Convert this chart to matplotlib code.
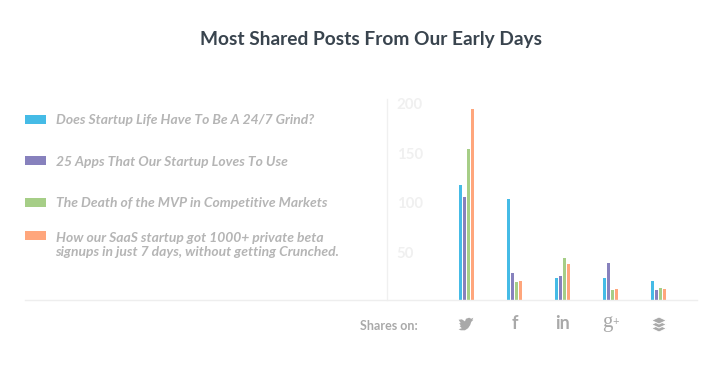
#!/usr/bin/env python3
import numpy as np
import matplotlib
matplotlib.use("Agg")
import matplotlib.pyplot as plt
from matplotlib.lines import Line2D
from matplotlib.patches import Rectangle, Polygon
from matplotlib.transforms import ScaledTranslation

# ==== DATA ====
networks = ["Twitter", "Facebook", "LinkedIn", "Google+", "Buffer"]
grind = [115, 101, 22, 22, 19]
apps = [103, 27, 24, 37, 10]
mvp = [151, 18, 42, 10, 12]
saas = [192, 19, 36, 11, 11]
yticks = [50, 100, 150, 200]

series = [grind, apps, mvp, saas]
colors = ["#45bbe6", "#8781bd", "#a6ce87", "#ffa67c"]
post_titles = [
    "Does Startup Life Have To Be A 24/7 Grind?",
    "25 Apps That Our Startup Loves To Use",
    "The Death of the MVP in Competitive Markets",
    "How our SaaS startup got 1000+ private beta\nsignups in just 7 days, without getting Crunched.",
]

W, H = 719, 371
FONT = "Lato"
GREY = "#a9a9a9"

def fx(px):
    return px / W

def fy(py):
    return 1 - py / H

# ==== PLOT ====
fig = plt.figure(figsize=(W / 100, H / 100), dpi=100, facecolor="white")
ax = fig.add_axes([fx(387), fy(299.5), fx(697 - 387), (299.5 - 99) / H])
ax.patch.set_alpha(0)

x = np.arange(len(networks))
px_x = 48.0   # pixels per category
for i, vals in enumerate(series):
    ax.bar(x + (i - 1.5) * 4 / px_x, vals, width=3 / px_x, color=colors[i], linewidth=0, zorder=3)

ax.set_xlim((387 - 466.5) / px_x, (697 - 466.5) / px_x)
ax.set_ylim(0, 200.5 / 0.994)

for s in ["top", "right", "bottom"]:
    ax.spines[s].set_visible(False)
ax.spines["left"].set_color("#f0f0f0")
ax.spines["left"].set_linewidth(1)

ax.set_xticks([])
ax.set_yticks(yticks)
ax.tick_params(axis="y", length=0, pad=-7)
for lab in ax.get_yticklabels():
    lab.set_ha("left")
    lab.set_fontfamily(FONT)
    lab.set_fontweight("bold")
    lab.set_fontsize(10.8)
    lab.set_color("#f0f0f0")
    lab.set_transform(lab.get_transform() + ScaledTranslation(0, -2.8 / 100, fig.dpi_scale_trans))

# baseline runs under the legend too
fig.add_artist(Line2D([fx(25), fx(697)], [fy(299.5), fy(299.5)], color="#eeeeee", lw=1))

fig.text(fx(371.5), fy(40), "Most Shared Posts From Our Early Days", ha="center", va="center",
         fontfamily=FONT, fontweight="bold", fontsize=13.8, color="#39444e")

# legend, by hand
legend_y = [119, 160.5, 202, 235]
text_y = [120, 161.5, 203, 245]
for c, t, ly, ty in zip(colors, post_titles, legend_y, text_y):
    fig.add_artist(Rectangle((fx(25), fy(ly + 4.5)), 21 / W, 9 / H, color=c, lw=0,
                             transform=fig.transFigure))
    fig.text(fx(55.5), fy(ty), t, ha="left", va="center", fontfamily=FONT, fontweight="bold",
             fontstyle="italic", fontsize=10.0, color="#b5b5b5", linespacing=1.15)

fig.text(fx(389), fy(326), "Shares on:", ha="center", va="center", fontfamily=FONT,
         fontweight="bold", fontsize=9.0, color=GREY)

# icons along the bottom
def place(points, cx, cy, s):
    pts = np.array(points, dtype=float)
    return [(fx(cx + p[0] * s), fy(cy + p[1] * s)) for p in pts]

bird = [(-7, -4), (-4, -4.5), (-1, -2.5), (0, -5), (3, -6), (5, -5), (7, -6), (6, -4), (7, -4), (5, -2),
        (4, 1), (2, 4), (-1, 6), (-5, 6), (-7, 5), (-4, 4), (-6, 2), (-5, 1.5), (-6.5, -1), (-5, -0.8)]
fig.add_artist(Polygon(place(bird, 466, 324, 1.05), closed=True, color=GREY, lw=0, transform=fig.transFigure))

fig.text(fx(514.5), fy(323.5), "f", ha="center", va="center", fontfamily=FONT, fontweight="bold",
         fontsize=13, color=GREY)
fig.text(fx(562.5), fy(323.5), "in", ha="center", va="center", fontfamily=FONT, fontweight="bold",
         fontsize=13, color=GREY)
fig.text(fx(607.5), fy(323), "g", ha="center", va="center", fontfamily="Liberation Serif",
         fontsize=15, color=GREY)
fig.text(fx(616), fy(322), "+", ha="center", va="center", fontfamily=FONT, fontsize=8, color=GREY)

for off in [4.5, 0.5, -3.5]:
    layer = [(-7.5, off), (0, off - 3.5), (7.5, off), (0, off + 3.5)]
    fig.add_artist(Polygon(place(layer, 659, 324, 1.0), closed=True, facecolor=GREY, edgecolor="white",
                           lw=0.7, transform=fig.transFigure, zorder=3 - off))

plt.savefig("out.png", dpi=100)
